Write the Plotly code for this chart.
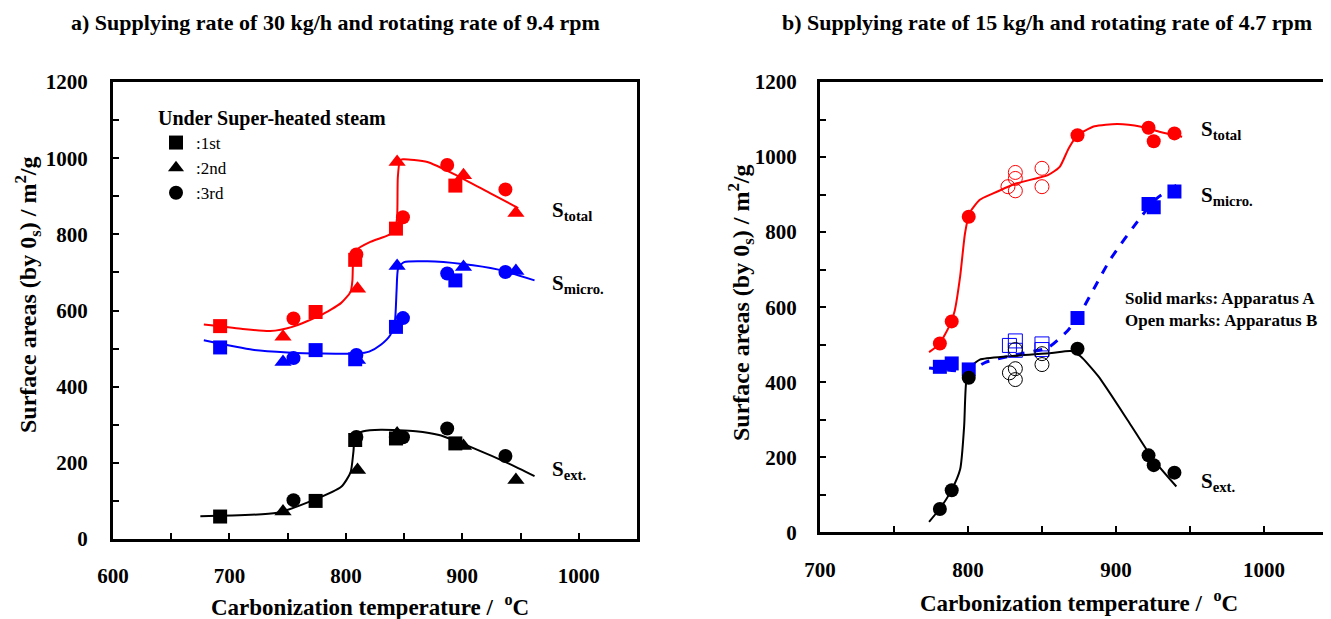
import plotly.graph_objects as go

# ---------------- Panel a) data ----------------
a_tot_sq_x = [692, 774, 808, 843, 894]
a_tot_sq_y = [559, 596, 733, 815, 928]
a_tot_tr_x = [746, 810, 844, 901, 946]
a_tot_tr_y = [531, 657, 990, 955, 856]
a_tot_ci_x = [755, 809, 849, 887, 937]
a_tot_ci_y = [579, 747, 845, 982, 918]

a_mic_sq_x = [692, 774, 808, 843, 894]
a_mic_sq_y = [503, 496, 472, 557, 679]
a_mic_tr_x = [746, 810, 844, 901, 946]
a_mic_tr_y = [465, 470, 717, 714, 704]
a_mic_ci_x = [755, 809, 849, 887, 937]
a_mic_ci_y = [475, 483, 580, 697, 701]

a_ext_sq_x = [692, 774, 808, 843, 894]
a_ext_sq_y = [59, 100, 260, 264, 251]
a_ext_tr_x = [746, 810, 844, 901, 946]
a_ext_tr_y = [72, 181, 277, 244, 155]
a_ext_ci_x = [755, 809, 849, 887, 937]
a_ext_ci_y = [102, 268, 267, 290, 218]

# fitted curves
a_tot_fit_x = [678, 710, 735, 754, 778, 796, 804, 805.6, 806.3, 808.7, 821, 836, 842, 844, 844.6, 846.5, 849, 870, 895, 925, 948]
a_tot_fit_y = [563, 552, 546, 557, 587, 620, 649, 679, 732, 758, 780, 797, 810, 845, 950, 994, 997, 990, 955, 906, 869]
a_mic_fit_x = [678, 720, 750, 780, 810, 820, 830, 838, 842, 843.5, 845, 850, 870, 900, 930, 962]
a_mic_fit_y = [522, 497, 490, 487, 487, 492, 510, 535, 570, 650, 712, 727, 729, 722, 708, 679]
a_ext_fit_x = [675, 741, 772, 796, 804, 806.5, 808, 815, 830, 860, 880, 910, 940, 962]
a_ext_fit_y = [60, 69, 102, 137, 175, 230, 272, 283, 287, 283, 273, 238, 198, 165]

# ---------------- Panel b) data ----------------
b_tot_solid_x = [781, 789, 800.5, 874, 922, 925.5, 939.5]
b_tot_solid_y = [503, 562, 841, 1058, 1078, 1042, 1063]
b_tot_open_x = [827, 832, 832, 832, 850, 850]
b_tot_open_y = [921, 959, 943, 910, 970, 921]

b_mic_solid_x = [781, 789, 800.5, 874, 922, 925.5, 939.5]
b_mic_solid_y = [441, 450, 434, 571, 875, 866, 908]
b_mic_open_x = [828, 832, 832, 850, 850]
b_mic_open_y = [498, 510, 485, 502, 487]

b_ext_solid_x = [781, 789, 800.5, 874, 922, 925.5, 939.5]
b_ext_solid_y = [62, 112, 412, 489, 205, 179, 159]
b_ext_open_x = [828, 832, 832, 832, 850, 850]
b_ext_open_y = [425, 487, 436, 407, 476, 447]

b_tot_fit_x = [773.7, 780.8, 788, 791, 794.7, 798, 801, 808, 817, 833, 854, 862, 868, 874, 885.5, 901, 917, 930, 944.7]
b_tot_fit_y = [480, 503, 555, 590, 682, 797, 850, 886, 903, 930, 952, 974, 1023, 1058, 1082, 1088, 1081, 1067, 1054]
b_mic_fit_x = [773.7, 801, 811.8, 833, 854, 867, 874, 896, 917, 927.6, 944.7]
b_mic_fit_y = [438, 430, 453, 474, 492, 536, 571, 726, 841, 890, 934]
b_ext_fit_x = [773.7, 780.8, 788.7, 794.7, 797.4, 799, 802.6, 808, 827.6, 856.6, 869.7, 876, 888, 909, 925, 940.8]
b_ext_fit_y = [28, 62, 111, 168, 283, 407, 443, 460, 469, 478, 483, 469, 416, 292, 195, 122]

a_xticks = [600, 700, 800, 900, 1000]
b_xticks = [700, 800, 900, 1000]
yticks = [0, 200, 400, 600, 800, 1000, 1200]

RED = "#FF0000"
BLUE = "#0000FF"
BLK = "#000000"
FONT = "Liberation Serif"

W, H, OFF = 1331, 619, 8   # page has an 8px body margin


def px(x):
    return (x - OFF) / W


def py(y):
    return 1 - (y - OFF) / H


fig = go.Figure()


def curve(x, y, color, xa, ya, dash="solid", width=2):
    fig.add_trace(go.Scatter(x=x, y=y, mode="lines", xaxis=xa, yaxis=ya,
                             line=dict(color=color, width=width, shape="spline", smoothing=0.6, dash=dash),
                             showlegend=False, hoverinfo="skip"))


def marks(x, y, color, symbol, xa, ya, size=14, open_=False):
    if open_:
        m = dict(color="rgba(0,0,0,0)", size=size, symbol=symbol, line=dict(color=color, width=1))
    else:
        m = dict(color=color, size=size, symbol=symbol, line=dict(width=0))
    fig.add_trace(go.Scatter(x=x, y=y, mode="markers", xaxis=xa, yaxis=ya, marker=m,
                             showlegend=False))


# Panel a curves
curve(a_tot_fit_x, a_tot_fit_y, RED, "x", "y")
curve(a_mic_fit_x, a_mic_fit_y, BLUE, "x", "y")
curve(a_ext_fit_x, a_ext_fit_y, BLK, "x", "y")
for (sx, sy, tx, ty, cx, cy, col) in [
        (a_tot_sq_x, a_tot_sq_y, a_tot_tr_x, a_tot_tr_y, a_tot_ci_x, a_tot_ci_y, RED),
        (a_mic_sq_x, a_mic_sq_y, a_mic_tr_x, a_mic_tr_y, a_mic_ci_x, a_mic_ci_y, BLUE),
        (a_ext_sq_x, a_ext_sq_y, a_ext_tr_x, a_ext_tr_y, a_ext_ci_x, a_ext_ci_y, BLK)]:
    marks(sx, sy, col, "square", "x", "y")
    marks(tx, ty, col, "triangle-up", "x", "y", size=15)
    marks(cx, cy, col, "circle", "x", "y")

# Legend entries (panel a)
for name, sym in [(":1st", "square"), (":2nd", "triangle-up"), (":3rd", "circle")]:
    fig.add_trace(go.Scatter(x=[None], y=[None], mode="markers", name=name, xaxis="x", yaxis="y",
                             marker=dict(color=BLK, size=14, symbol=sym)))

# Panel b curves
curve(b_tot_fit_x, b_tot_fit_y, RED, "x2", "y2")
curve(b_mic_fit_x, b_mic_fit_y, BLUE, "x2", "y2", dash="dash", width=3)
curve(b_ext_fit_x, b_ext_fit_y, BLK, "x2", "y2")
marks(b_tot_open_x, b_tot_open_y, RED, "circle", "x2", "y2", open_=True)
marks(b_mic_open_x, b_mic_open_y, BLUE, "square", "x2", "y2", open_=True)
marks(b_ext_open_x, b_ext_open_y, BLK, "circle", "x2", "y2", open_=True)
marks(b_tot_solid_x, b_tot_solid_y, RED, "circle", "x2", "y2")
marks(b_mic_solid_x, b_mic_solid_y, BLUE, "square", "x2", "y2")
marks(b_ext_solid_x, b_ext_solid_y, BLK, "circle", "x2", "y2")

tickfont = dict(family=FONT, size=21, color=BLK, weight="bold")
common_ax = dict(showline=True, linecolor=BLK, linewidth=3, ticks="inside", ticklen=6,
                 tickwidth=2, tickcolor=BLK, showgrid=False, zeroline=False, tickfont=tickfont,
                 automargin=False)
minor_x = dict(dtick=50, ticks="inside", ticklen=6, tickwidth=2, tickcolor=BLK)
minor_y = dict(dtick=100, tick0=0, ticks="inside", ticklen=6, tickwidth=2, tickcolor=BLK)

fig.update_layout(
    width=W, height=H,
    margin=dict(l=0, r=0, t=0, b=0, pad=0, autoexpand=False),
    paper_bgcolor="white", plot_bgcolor="white",
    showlegend=True,
    legend=dict(x=px(156), y=py(99), xanchor="left", yanchor="top",
                bgcolor="rgba(0,0,0,0)", tracegroupgap=0,
                font=dict(family=FONT, size=17, color=BLK),
                title=dict(text="Under Super-heated steam",
                           font=dict(family=FONT, size=20, color=BLK, weight="bold"))),
    xaxis=dict(domain=[px(113), px(637)], range=[600, 1050], tickvals=a_xticks,
               minor=dict(tick0=600, **minor_x),
               mirror=True, anchor="y", ticklabelstandoff=16, **common_ax),
    yaxis=dict(domain=[py(539), py(82)], range=[0, 1200], tickvals=yticks,
               minor=minor_y, mirror=True, anchor="x", ticklabelstandoff=18, **common_ax),
    xaxis2=dict(domain=[px(820), 1.0], range=[700, 1050.7], tickvals=b_xticks,
                minor=dict(tick0=700, **minor_x),
                mirror=True, anchor="y2", ticklabelstandoff=16, **common_ax),
    yaxis2=dict(domain=[py(532.3), py(82)], range=[0, 1200], tickvals=yticks,
                minor=minor_y, mirror=False, anchor="x2", ticklabelstandoff=16, **common_ax),
)

bold = dict(family=FONT, color=BLK, weight="bold")
ann = []


def ptext(text, x, y, size, angle=0):
    ann.append(dict(text=text, xref="paper", yref="paper", x=px(x), y=py(y), xanchor="center",
                    yanchor="middle", textangle=angle, showarrow=False, font=dict(size=size, **bold)))


ptext("a) Supplying rate of 30 kg/h and rotating rate of 9.4 rpm", 335, 23, 22)
ptext("b) Supplying rate of 15 kg/h and rotating rate of 4.7 rpm", 1047, 23, 22)
ytitle = "Surface areas (by 0<sub>s</sub>) / m<sup>2</sup>/g"
ptext(ytitle, 28, 295, 24, -90)
ptext(ytitle, 741, 303, 24, -90)
xtitle = "Carbonization temperature /  <sup>o</sup>C"
ptext(xtitle, 370, 605, 23)
ptext(xtitle, 1079, 601, 23)


def slabel(sub, x, y, xr, yr):
    ann.append(dict(text="S<sub>" + sub + "</sub>", x=x, y=y, xref=xr, yref=yr, xanchor="left",
                    yanchor="middle", showarrow=False,
                    font=dict(size=21, family=FONT, color=BLK, weight="bold")))


slabel("total", 975, 860, "x", "y")
slabel("micro.", 975, 670, "x", "y")
slabel("ext.", 975, 181, "x", "y")
slabel("total", 956, 1072, "x2", "y2")
slabel("micro.", 956, 895, "x2", "y2")
slabel("ext.", 956, 135, "x2", "y2")

ann.append(dict(text="Solid marks: Apparatus A", x=905, y=624, xref="x2", yref="y2", xanchor="left",
                yanchor="middle", showarrow=False, font=dict(size=17, **bold)))
ann.append(dict(text="Open marks: Apparatus B", x=905, y=564, xref="x2", yref="y2", xanchor="left",
                yanchor="middle", showarrow=False, font=dict(size=17, **bold)))

fig.update_layout(annotations=ann)
fig.write_html("out.html")
